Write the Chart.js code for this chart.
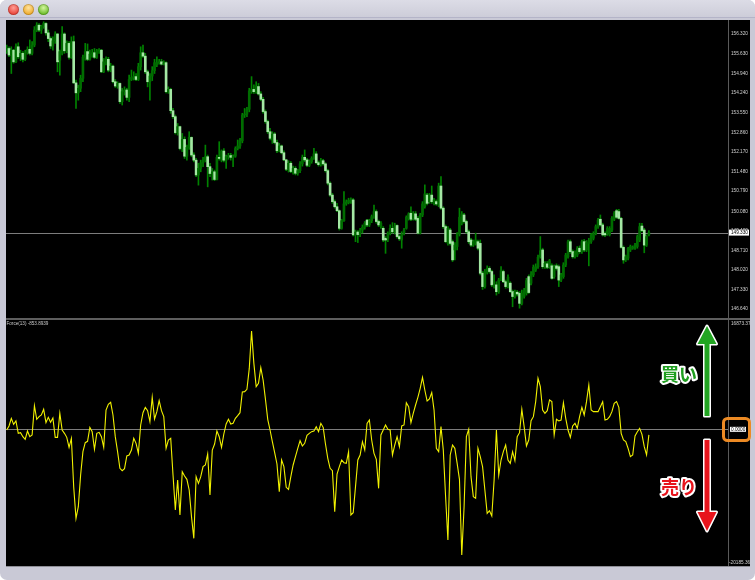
<!DOCTYPE html>
<html><head><meta charset="utf-8">
<script src="https://cdn.jsdelivr.net/npm/chart.js@4.4.0/dist/chart.umd.min.js"></script>
<style>
html,body{margin:0;padding:0;background:#ffffff;width:755px;height:580px;overflow:hidden;}
#win{position:absolute;left:0;top:0;width:755px;height:580px;background:#c9c9d6;border-radius:7px;overflow:hidden;}
#title{position:absolute;left:0;top:0;width:755px;height:17px;background:linear-gradient(#dcdce6,#cdcdd9);border-bottom:1px solid #b4b4c8;}
.tl{position:absolute;top:4px;width:11px;height:11px;border-radius:50%;box-shadow:inset 0 0 0 1px rgba(0,0,0,0.18);}
#panel{position:absolute;left:6px;top:20px;width:744px;height:546px;background:#000;}
#sep{position:absolute;left:6px;top:318px;width:744px;height:2px;background:#5e5e5e;}
#bot{position:absolute;left:6px;top:566px;width:744px;height:1px;background:#8e8e96;}
#c1{position:absolute;left:6px;top:20px;}
#c2{position:absolute;left:6px;top:320px;}
#ann{position:absolute;left:0;top:0;}
</style></head>
<body>
<div id="win">
  <div id="title">
    <div class="tl" style="left:8px;background:radial-gradient(circle at 50% 35%,#ff9d94,#e9453b 70%);"></div>
    <div class="tl" style="left:23px;background:radial-gradient(circle at 50% 35%,#ffe3a0,#f0ac2c 70%);"></div>
    <div class="tl" style="left:38px;background:radial-gradient(circle at 50% 35%,#d4f5a0,#6cbd2a 70%);"></div>
  </div>
  <div id="panel"></div>
  <canvas id="c1" width="744" height="298"></canvas>
  <div id="sep"></div>
  <canvas id="c2" width="744" height="246"></canvas>
  <div id="bot"></div>
  <svg id="ann" width="755" height="580" xmlns="http://www.w3.org/2000/svg">
    <path d="M707,326 L716.5,344 L709.5,344 L709.5,416 L704.5,416 L704.5,344 L697.5,344 Z" fill="#22a522" stroke="#ffffff" stroke-width="3" stroke-linejoin="round" paint-order="stroke"/>
    <path d="M704.5,440 L709.5,440 L709.5,512 L716.5,512 L707,531 L697.5,512 L704.5,512 Z" fill="#e8141c" stroke="#ffffff" stroke-width="3" stroke-linejoin="round" paint-order="stroke"/>
    <text x="661" y="381" font-family="Noto Sans CJK JP" font-weight="bold" font-size="18" fill="#1f9e1f" stroke="#ffffff" stroke-width="4" stroke-linejoin="round" paint-order="stroke">買い</text>
    <text x="661" y="494" font-family="Noto Sans CJK JP" font-weight="bold" font-size="18" fill="#e8141c" stroke="#ffffff" stroke-width="4" stroke-linejoin="round" paint-order="stroke">売り</text>
    <rect x="723.5" y="418.5" width="26" height="22" rx="4" ry="4" fill="none" stroke="#ec8a24" stroke-width="3"/>
  </svg>
</div>
<script>
// ---------- DATA ----------
const opens = [
155.70,155.81,155.58,155.75,155.34,155.87,155.52,155.64,155.43,155.66,
155.78,155.64,155.93,156.46,156.63,156.46,156.58,156.69,156.36,156.16,
155.90,156.08,156.32,155.40,155.64,156.32,155.73,155.99,155.50,156.05,
154.60,154.25,154.41,154.76,155.50,155.70,155.43,155.61,155.66,155.50,
155.73,155.75,154.99,155.34,155.43,155.05,155.19,154.64,154.49,154.58,
153.94,154.29,154.35,154.09,154.72,154.79,154.82,154.72,155.17,155.66,
155.54,154.99,154.64,154.84,155.03,155.23,155.31,155.34,155.26,155.31,
154.29,154.37,153.62,153.41,152.85,153.06,152.29,152.61,152.02,152.33,
152.68,152.06,151.88,151.36,151.59,151.79,151.88,152.00,151.65,151.41,
151.47,151.20,151.98,151.88,152.20,151.88,152.00,152.04,151.98,152.02,
152.29,152.38,152.56,153.47,153.50,153.67,
154.29,154.37,154.29,154.47,154.21,154.02,153.59,153.24,152.88,152.59,
152.80,152.50,152.21,152.38,152.14,151.89,151.56,151.77,151.48,151.59,
151.42,151.51,151.75,151.98,151.89,151.70,151.83,151.94,152.10,151.79,
151.72,151.86,151.75,151.51,151.07,150.65,150.42,150.24,150.10,149.48,
149.75,150.34,150.38,150.43,150.48,149.25,149.35,149.28,149.42,149.52,
149.77,149.60,149.75,149.89,150.07,149.72,149.54,149.48,149.13,149.13,
149.31,149.48,149.36,149.58,149.19,149.07,149.31,149.48,149.83,150.01,
149.83,149.99,149.83,149.31,149.95,150.24,150.65,150.42,150.65,150.36,
150.42,150.30,150.97,150.19,149.54,148.95,149.42,149.01,148.72,148.84,
149.28,149.66,149.95,149.72,149.36,149.07,148.89,148.95,149.01,
148.95,147.90,147.43,147.92,148.07,147.96,147.43,147.49,147.25,147.66,
147.96,147.60,147.43,147.55,147.25,147.08,147.23,147.19,146.84,147.08,
147.19,147.78,147.55,147.84,148.01,148.13,148.48,148.72,148.13,148.23,
148.13,148.16,147.78,148.16,148.13,147.66,147.78,148.19,148.48,149.01,
148.66,148.48,148.54,148.78,148.66,149.01,148.72,148.95,149.01,149.13,
149.30,149.54,149.80,149.60,149.30,149.28,149.25,149.42,149.80,150.10,
150.07,149.83,148.81,148.37,148.43,148.72,148.78,148.78,148.84,149.07,
149.56,149.42,148.89,149.25];
const highs = [
155.93,155.87,155.87,155.78,155.97,156.01,155.75,155.70,155.75,155.87,
156.11,156.05,156.58,156.72,156.69,156.63,156.75,156.72,156.46,156.22,
156.22,156.40,156.34,155.75,156.58,156.36,156.08,156.05,156.22,156.25,
154.70,154.52,154.87,155.58,155.99,155.97,155.75,155.78,155.81,155.78,
155.81,155.78,155.46,155.52,155.50,155.29,155.23,154.72,154.64,154.60,
154.41,154.46,154.41,154.87,155.05,154.99,154.93,155.29,155.87,155.93,
155.64,155.05,154.93,155.17,155.43,155.52,155.43,155.43,155.38,155.34,
154.46,154.41,153.70,153.47,153.17,153.08,152.82,152.70,152.41,152.88,
152.70,152.14,151.94,151.77,151.88,151.98,152.41,152.06,151.77,151.59,
151.53,152.06,152.53,152.24,152.29,152.06,152.12,152.12,152.07,152.35,
152.59,152.65,153.53,153.70,153.74,154.41,
154.82,154.53,154.64,154.58,154.29,154.09,153.65,153.29,153.00,152.88,
152.85,152.59,152.47,152.41,152.21,151.91,151.86,151.83,151.67,151.65,
151.56,151.83,152.06,152.24,151.94,151.89,152.00,152.30,152.18,151.85,
151.94,151.91,151.79,151.56,151.12,150.71,150.48,150.36,150.13,149.80,
150.77,150.48,150.54,150.55,150.53,149.42,149.40,149.48,149.60,149.72,
149.80,149.80,149.95,150.30,150.13,149.77,149.72,149.54,149.19,149.36,
149.60,149.68,149.66,149.60,149.25,149.36,149.48,149.92,150.03,150.24,
150.07,150.07,149.89,150.01,150.42,151.01,150.71,150.71,150.97,150.54,
150.48,151.07,151.30,150.24,149.60,149.54,149.48,149.07,148.98,149.33,
150.19,150.07,150.01,149.77,149.42,149.13,149.07,149.31,149.07,
149.07,147.96,148.04,148.16,148.13,148.01,147.84,147.60,147.72,148.13,
148.01,147.66,147.84,147.60,147.31,147.31,147.29,147.25,147.31,147.37,
147.72,147.84,147.96,148.19,148.23,148.54,149.19,148.78,148.31,148.31,
148.39,148.23,148.19,148.23,148.19,147.90,148.27,148.60,149.07,149.07,
148.72,148.69,148.84,148.86,149.07,149.09,149.05,149.13,149.30,149.36,
149.60,149.83,149.95,149.66,149.36,149.54,149.54,149.89,150.07,150.15,
150.15,149.87,148.86,148.54,148.81,148.89,148.86,148.95,149.25,149.66,
149.66,149.48,149.25,149.40];
const lows = [
155.64,155.52,154.93,155.29,155.31,155.46,155.38,155.34,155.38,155.61,
155.58,155.58,155.87,156.40,156.40,156.34,156.52,156.28,156.05,155.81,
155.75,155.99,154.99,154.87,155.58,155.64,155.66,155.43,155.46,154.58,
153.70,153.99,154.29,154.64,155.40,155.38,155.40,155.50,155.46,155.46,
155.64,154.96,154.96,155.23,154.99,154.99,154.60,154.44,154.41,153.88,
153.82,154.17,153.99,153.94,154.68,154.70,154.68,154.68,155.05,155.50,
154.93,154.46,153.99,154.68,154.93,155.17,155.26,155.23,155.23,154.25,
154.23,153.53,153.35,152.80,152.76,152.24,152.18,151.94,151.88,152.26,
152.00,151.82,151.30,151.00,151.47,151.65,151.82,150.94,151.30,151.18,
151.16,151.18,151.88,151.82,151.82,151.59,151.91,151.88,151.65,151.98,
152.24,152.29,152.49,153.38,153.41,153.58,
154.23,154.23,154.23,154.17,153.97,153.53,153.18,152.82,152.59,152.47,
152.45,152.14,152.17,152.10,151.86,151.51,151.46,151.44,151.39,151.36,
151.35,151.44,151.67,151.83,151.65,151.65,151.77,151.91,151.75,151.67,
151.67,151.70,151.46,151.01,150.60,150.36,150.19,150.07,149.42,149.45,
149.72,150.29,150.34,150.36,149.21,149.01,148.98,149.19,149.31,149.45,
149.54,149.54,149.68,149.83,149.66,149.54,149.48,149.01,148.60,149.01,
149.25,149.31,149.28,149.13,149.05,148.78,149.25,149.45,149.77,149.75,
149.77,149.75,149.28,149.28,149.89,150.19,150.30,150.36,150.36,150.30,
150.29,150.24,150.15,149.48,148.98,148.89,148.89,148.31,148.37,148.72,
149.21,149.60,149.66,149.31,148.95,148.84,148.84,148.89,148.72,
147.84,147.33,147.37,147.87,147.90,147.43,147.37,147.13,147.19,147.64,
147.57,147.37,147.38,147.22,146.72,147.02,147.10,146.67,146.78,147.02,
147.13,147.19,147.49,147.78,147.96,148.07,148.43,148.07,148.07,148.06,
148.07,147.69,147.72,148.01,147.43,147.60,147.72,148.13,148.43,148.60,
148.43,148.43,148.48,148.60,148.60,148.66,148.66,148.16,148.95,149.07,
149.25,149.48,149.56,149.21,149.19,149.23,149.21,149.36,149.75,149.83,
149.80,148.78,148.25,148.31,148.37,148.66,148.74,148.74,148.78,149.01,
149.36,148.62,148.84,149.21];
const closes = [
155.81,155.58,155.75,155.34,155.87,155.52,155.64,155.43,155.66,155.78,
155.64,155.93,156.46,156.63,156.46,156.58,156.69,156.36,156.16,155.90,
156.08,156.32,155.34,155.70,156.32,155.73,155.99,155.50,156.05,154.60,
154.25,154.41,154.76,155.50,155.70,155.43,155.61,155.66,155.50,155.73,
155.75,154.99,155.34,155.43,155.05,155.19,154.64,154.49,154.58,153.94,
154.29,154.35,154.09,154.72,154.79,154.82,154.72,155.17,155.66,155.54,
154.99,154.64,154.84,155.03,155.31,155.31,155.34,155.26,155.31,154.29,
154.37,153.62,153.41,152.85,153.06,152.29,152.61,152.02,152.33,152.68,
152.06,151.88,151.36,151.59,151.79,151.88,152.00,151.65,151.41,151.47,
151.20,151.98,151.94,152.20,151.88,152.00,152.04,151.98,152.02,152.29,
152.38,152.56,153.47,153.50,153.67,154.32,
154.37,154.29,154.47,154.21,154.02,153.59,153.24,152.88,152.65,152.80,
152.50,152.21,152.38,152.14,151.89,151.56,151.77,151.48,151.59,151.42,
151.51,151.75,151.98,151.89,151.70,151.83,151.94,152.10,151.79,151.72,
151.86,151.75,151.51,151.07,150.65,150.42,150.24,150.10,149.48,149.75,
150.34,150.41,150.47,150.48,149.25,149.35,149.26,149.42,149.52,149.66,
149.60,149.75,149.89,150.07,149.72,149.60,149.66,149.07,149.07,149.31,
149.48,149.36,149.54,149.19,149.11,149.28,149.42,149.87,149.99,149.80,
150.01,149.80,149.31,149.95,150.34,150.69,150.36,150.65,150.42,150.48,
150.34,150.97,150.19,149.54,149.01,149.48,148.95,148.37,148.89,149.28,
149.87,149.99,149.72,149.36,149.01,148.89,149.01,149.07,148.78,
147.90,147.43,147.96,148.07,147.96,147.49,147.49,147.25,147.66,147.99,
147.60,147.43,147.76,147.25,147.08,147.23,147.17,146.84,147.19,147.29,
147.64,147.22,147.87,148.11,148.13,148.46,148.69,148.13,148.25,148.11,
148.34,147.72,148.13,148.07,147.66,147.84,148.19,148.54,149.01,148.66,
148.48,148.62,148.78,148.66,149.01,148.72,148.98,149.05,149.25,149.30,
149.54,149.77,149.60,149.25,149.25,149.48,149.48,149.83,150.01,149.87,
149.83,148.81,148.37,148.48,148.78,148.84,148.81,148.89,149.19,149.54,
149.40,148.89,149.19,149.33];
const forceValues = [
-103,513,1693,770,1283,-616,-513,-1129,-1539,-257,
-1129,-872,3642,1539,1949,2206,3078,1026,1847,1077,
1744,-1231,-1231,2462,-103,-616,-1231,-2770,-1385,-8824,
-13697,-11902,-7028,-3437,-2052,-1847,308,-359,-3078,-616,
-462,-1129,-2770,2975,3848,4155,2206,-1129,-3437,-6002,
-6361,-6053,-4104,-3950,-3181,-1385,-2155,-3694,667,2565,
3386,2873,1180,4925,1590,2719,4412,2873,1949,-2924,
-1642,-1385,-7028,-12415,-7798,-13184,-6515,-7182,-7695,-9337,
-13441,-16775,-7285,-8311,-7285,-5746,-5489,-3796,-10106,-3181,
-2257,-257,-1129,-2770,-718,821,1539,821,923,1693,
2103,2565,5746,5797,6156,9337,15134,10157,6566,7079,
9491,7592,4668,1539,-103,-1898,-3591,-5335,-9593,-4720,
-5746,-8926,-9234,-7285,-5489,-4207,-2924,-1744,-2565,-2155,
-923,-616,-359,-257,410,-359,923,308,-2257,-4463,
-6002,-6361,-12671,
-6874,-5746,-4720,-5130,-5233,-3437,-13184,
-12825,-8824,-4720,-3950,-1898,-3181,923,1436,-1642,-3694,
-4617,-9080,-872,-103,667,0,-103,-3950,-2411,-1129,
-2668,513,667,4104,3488,1026,2462,3745,4925,6310,
8003,6053,4361,4668,5643,2975,-2924,-3437,410,-3181,
-10363,-17032,-3950,-2411,-2924,-5233,-7695,-19340,-11902,-1129,
0,-7285,-10363,-10619,-2924,-4207,-5746,-9337,-12928,-12517,
-13338,-7798,-103,-7028,-4720,-3437,-2411,-4720,-5233,-3437,
-4822,-1129,-513,3078,410,-2565,-1642,1334,1949,4258,
7849,6566,2975,2462,2873,4514,4258,-872,1539,1283,
1436,4104,1693,-103,-1231,513,923,154,1949,3386,
2206,4258,6823,2975,2719,2719,2719,3488,4258,1436,
1539,1949,2719,4001,4258,3386,-616,-1642,-1898,-2924,
-4207,-3950,-1026,-359,154,-770,-2668,-3950,-854];
const priceTicks = [156.32,155.63,154.94,154.24,153.55,152.86,152.17,151.48,150.79,150.08,149.40,148.71,148.02,147.33,146.64];
const forceAxisTop = "16873.37";
const forceAxisBottom = "-20185.36";
const forceTitle = "Force(13) -853.8939";

// ---------- STYLE ----------
const BULL = '#006c00', BEAR = '#a4e8a4', WICK = '#008200';
const AXC = '#d2d2d2';
const AXFONT = {family:'Liberation Sans', size:4.7};

const idx = closes.map((_, i) => i);
const XMIN = -0.303, XMAX = 312.25;

function noPad(s){ s.width = 22; s.paddingTop = 0; s.paddingBottom = 0; s.paddingLeft = 0; s.paddingRight = 0; }

const priceLine = {
  id:'priceLine',
  beforeDatasetsDraw(chart){
    const {ctx, chartArea:a, scales:{y}} = chart;
    const py = Math.round(y.getPixelForValue(closes[closes.length-1])) + 0.5;
    ctx.save(); ctx.strokeStyle='#7c7c7c'; ctx.lineWidth=1;
    ctx.beginPath(); ctx.moveTo(a.left, py); ctx.lineTo(a.right, py); ctx.stroke(); ctx.restore();
  },
  afterDraw(chart){
    const {ctx, chartArea:a, scales:{y}} = chart;
    const last = closes[closes.length-1];
    const py = y.getPixelForValue(last);
    ctx.save();
    ctx.fillStyle='#ffffff'; ctx.fillRect(a.right+1, py-3, 20, 6);
    ctx.fillStyle='#000000'; ctx.font='4.7px "Liberation Sans"'; ctx.textBaseline='middle'; ctx.textAlign='left';
    ctx.fillText(last.toFixed(3), a.right+3, py+0.3);
    ctx.restore();
  }
};

new Chart(document.getElementById('c1'), {
  type:'bar',
  data:{datasets:[
    {data: idx.map(i=>({x:i, y:[lows[i], highs[i]]})), backgroundColor: WICK, barThickness:1, grouped:false, order:2},
    {data: idx.map(i=>({x:i, y:[opens[i], closes[i]]})), backgroundColor: idx.map(i=> closes[i] >= opens[i] ? BULL : BEAR), barThickness:2, minBarLength:1, grouped:false, order:1}
  ]},
  options:{
    responsive:false, animation:false, events:[],
    layout:{padding:0},
    plugins:{legend:{display:false}, tooltip:{enabled:false}},
    scales:{
      x:{type:'linear', display:false, min:XMIN, max:XMAX, offset:false},
      y:{position:'right', min:146.324, max:156.813,
         grid:{display:false, drawTicks:false}, border:{display:true, color:'#5a5a5a', width:1},
         afterFit: noPad,
         afterBuildTicks(s){ s.ticks = priceTicks.map(v=>({value:v})); },
         ticks:{color:AXC, font:AXFONT, padding:3, callback:v=>Number(v).toFixed(3)}}
    }
  },
  plugins:[priceLine]
});

const forceDeco = {
  id:'forceDeco',
  beforeDatasetsDraw(chart){
    const {ctx, chartArea:a, scales:{y}} = chart;
    const py = Math.round(y.getPixelForValue(0)) + 0.5;
    ctx.save(); ctx.strokeStyle='#7c7c7c'; ctx.lineWidth=1;
    ctx.beginPath(); ctx.moveTo(a.left, py); ctx.lineTo(a.right, py); ctx.stroke(); ctx.restore();
  },
  afterDraw(chart){
    const {ctx, chartArea:a, scales:{y}} = chart;
    const py = y.getPixelForValue(0);
    ctx.save();
    ctx.font='4.7px "Liberation Sans"'; ctx.textAlign='left';
    ctx.fillStyle='#ffffff'; ctx.fillRect(a.right+2, py-2.5, 16, 5);
    ctx.fillStyle='#000000'; ctx.textBaseline='middle'; ctx.fillText('0.0000', a.right+3, py+0.3);
    ctx.fillStyle=AXC; ctx.textBaseline='top';
    ctx.fillText(forceAxisTop, a.right+3, a.top+1);
    ctx.textBaseline='bottom';
    ctx.fillText(forceAxisBottom, a.right+1, a.bottom-1);
    ctx.fillStyle='#c8c8c8'; ctx.textBaseline='top'; ctx.font='4.6px "Liberation Sans"';
    ctx.fillText(forceTitle, a.left+0.5, a.top+1.5);
    ctx.restore();
  }
};

new Chart(document.getElementById('c2'), {
  type:'line',
  data:{datasets:[{data: idx.map(i=>({x:i, y:forceValues[i]})), borderColor:'#f2f200', borderWidth:1.1, pointRadius:0, tension:0, fill:false}]},
  options:{
    responsive:false, animation:false, events:[],
    layout:{padding:0},
    plugins:{legend:{display:false}, tooltip:{enabled:false}},
    scales:{
      x:{type:'linear', display:false, min:XMIN, max:XMAX},
      y:{position:'right', min:-21033, max:16826,
         grid:{display:false, drawTicks:false}, border:{display:true, color:'#5a5a5a', width:1},
         afterFit: noPad,
         ticks:{display:false}}
    }
  },
  plugins:[forceDeco]
});
</script>
</body></html>
